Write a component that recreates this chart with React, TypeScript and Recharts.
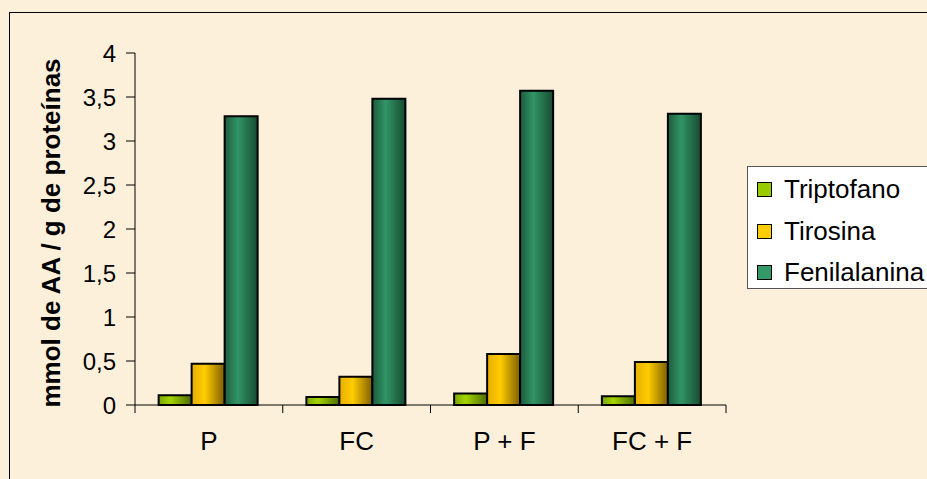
import { BarChart, Bar, XAxis, YAxis, Legend } from 'recharts'

const categories = ['P', 'FC', 'P + F', 'FC + F']
const triptofano = [0.11, 0.09, 0.13, 0.1]
const tirosina = [0.47, 0.32, 0.58, 0.49]
const fenilalanina = [3.28, 3.48, 3.57, 3.31]
const yTicks = [0, 0.5, 1, 1.5, 2, 2.5, 3, 3.5, 4]
const seriesNames = ['Triptofano', 'Tirosina', 'Fenilalanina']
const seriesColors = ['#99CC00', '#FFCC00', '#339966']

const data = categories.map((cat, i) => ({
  cat,
  Triptofano: triptofano[i],
  Tirosina: tirosina[i],
  Fenilalanina: fenilalanina[i],
}))

const W = 927, H = 479
const PLOT_L = 135, PLOT_R = 726, PLOT_T = 53, PLOT_B = 405
const BAND = (PLOT_R - PLOT_L) / categories.length
const FONT = '"Liberation Sans", Arial, sans-serif'

function XTick({ x, y, payload, index }: any) {
  const half = BAND / 2
  return (
    <g>
      <line x1={x - half} x2={x - half} y1={y - 8} y2={y} stroke="#000" />
      {index === categories.length - 1 && <line x1={x + half} x2={x + half} y1={y - 8} y2={y} stroke="#000" />}
      <text x={x} y={y} dy={37} textAnchor="middle" fontSize={26} fill="#000" fontFamily={FONT}>{payload.value}</text>
    </g>
  )
}

function YLabel() {
  const cx = 51, cy = (PLOT_T + PLOT_B) / 2 + 4
  return (
    <text x={cx} y={cy} transform={`rotate(-90 ${cx} ${cy})`} textAnchor="middle" dominantBaseline="central"
      fontSize={26} fontWeight="bold" fill="#000" fontFamily={FONT}>mmol de AA / g de proteínas</text>
  )
}

function LegendBox() {
  return (
    <div style={{ width: 200, height: 123, background: '#fff', border: '1px solid #555', boxSizing: 'border-box', paddingTop: 2, fontFamily: FONT }}>
      {seriesNames.map((n, i) => (
        <div key={n} style={{ display: 'flex', alignItems: 'center', height: 41.5, paddingLeft: 9 }}>
          <span style={{ width: 13, height: 13, background: seriesColors[i], border: '1px solid #000', marginRight: 12 }} />
          <span style={{ fontSize: 26, color: '#000' }}>{n}</span>
        </div>
      ))}
    </div>
  )
}

export default function App() {
  return (
    <div style={{ position: 'absolute', left: 0, top: 0, width: W, height: H, overflow: 'hidden', background: '#FCF0DA' }}>
      <div style={{ position: 'absolute', left: 9, top: 12, width: 1000, height: 1000, border: '1px solid #000' }} />
      <BarChart width={W} height={H} data={data} barGap={0} barCategoryGap="16%"
        margin={{ top: PLOT_T, right: W - PLOT_R, bottom: H - PLOT_B - 40, left: 0 }}
        style={{ position: 'absolute', left: 0, top: 0 }}>
        <defs>
          <linearGradient id="gTrip" x1="0" y1="0" x2="1" y2="0">
            <stop offset="0%" stopColor="#7aa600" />
            <stop offset="35%" stopColor="#a3d400" />
            <stop offset="100%" stopColor="#4c6c00" />
          </linearGradient>
          <linearGradient id="gTir" x1="0" y1="0" x2="1" y2="0">
            <stop offset="0%" stopColor="#e6ae00" />
            <stop offset="40%" stopColor="#ffcc00" />
            <stop offset="100%" stopColor="#7d5e00" />
          </linearGradient>
          <linearGradient id="gFen" x1="0" y1="0" x2="1" y2="0">
            <stop offset="0%" stopColor="#1d5c3d" />
            <stop offset="40%" stopColor="#319566" />
            <stop offset="100%" stopColor="#174a31" />
          </linearGradient>
        </defs>
        <XAxis dataKey="cat" height={40} tickSize={8} tickMargin={0} tickLine={false} tick={<XTick />}
          axisLine={{ stroke: '#000' }} />
        <XAxis xAxisId="top" dataKey="cat" orientation="top" height={0} tick={false} tickLine={false}
          axisLine={{ stroke: '#808080' }} />
        <YAxis domain={[0, 4]} ticks={yTicks} width={PLOT_L} tickSize={9} tickMargin={10}
          axisLine={{ stroke: '#000' }} tickLine={{ stroke: '#000' }}
          tick={{ fontSize: 24, fill: '#000', fontFamily: FONT }}
          tickFormatter={(v: number) => String(v).replace('.', ',')}
          label={<YLabel />} />
        <YAxis yAxisId="right" orientation="right" domain={[0, 4]} width={0} tick={false} tickLine={false}
          axisLine={{ stroke: '#808080' }} />
        <Legend layout="horizontal" verticalAlign="middle" align="center" content={<LegendBox />}
          wrapperStyle={{ position: 'absolute', left: 747, top: 166, width: 200 }} />
        <Bar dataKey="Triptofano" fill="url(#gTrip)" stroke="#000" strokeWidth={2} isAnimationActive={false} />
        <Bar dataKey="Tirosina" fill="url(#gTir)" stroke="#000" strokeWidth={2} isAnimationActive={false} />
        <Bar dataKey="Fenilalanina" fill="url(#gFen)" stroke="#000" strokeWidth={2} isAnimationActive={false} />
      </BarChart>
    </div>
  )
}
